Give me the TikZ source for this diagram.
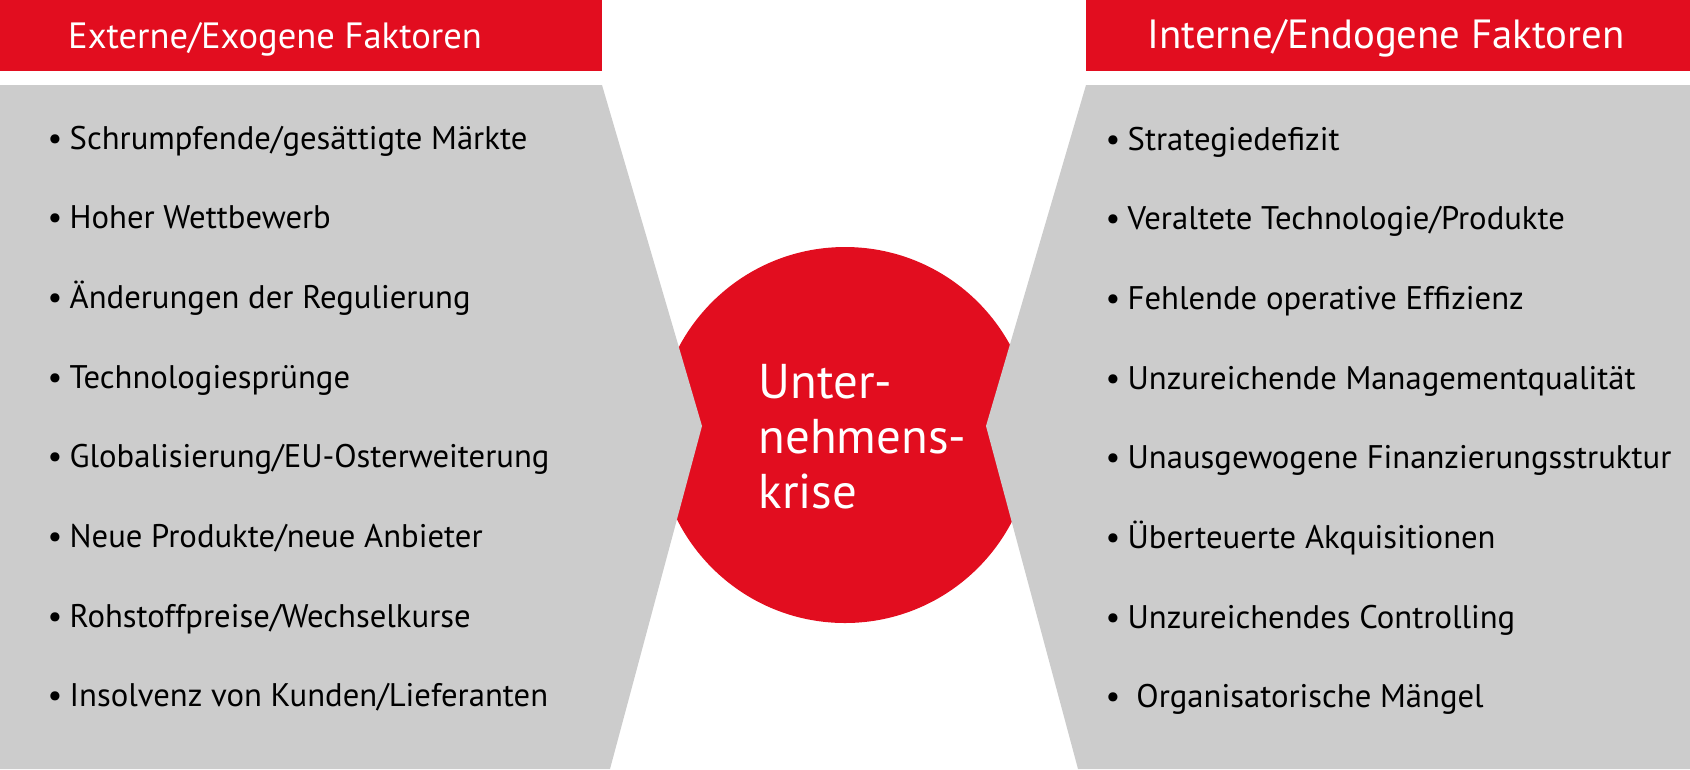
\documentclass[tikz,border=0pt]{standalone}
\usepackage{fontspec}
\setmainfont{PT Sans}
\definecolor{krisenrot}{HTML}{E20D1F}
\definecolor{hellgrau}{HTML}{CCCCCC}
\begin{document}
\begin{tikzpicture}[x=.1mm, y=-.1mm,
    kopf/.style={text=white, inner sep=0pt, anchor=base},
    punkt/.style={anchor=base west, inner sep=0pt, font=\fontsize{9.3}{11}\selectfont}]
\useasboundingbox (0,0) rectangle (1690,769);
% Kreis in der Mitte
\fill[krisenrot] (845,435) circle (18.8mm);
\node[anchor=base west, inner sep=0pt, text=white, align=left,
      font=\fontsize{13.9}{15.6}\selectfont] (krise) at (758,508) {Unter-\\nehmens-\\krise};
% graue Flaechen
\fill[hellgrau] (0,85) -- (602,85) -- (702,426) -- (610,769) -- (0,769) -- cycle;
\fill[hellgrau] (1690,85) -- (1086,85) -- (986,426) -- (1078,769) -- (1690,769) -- cycle;
% Kopfzeilen
\fill[krisenrot] (0,0) rectangle (602,71);
\fill[krisenrot] (1086,0) rectangle (1690,71);
\node[kopf, font=\fontsize{10.4}{12}\selectfont] (extern) at (275,48) {Externe/Exogene Faktoren};
\node[kopf, font=\fontsize{11.6}{13}\selectfont] (intern) at (1386,48) {Interne/Endogene Faktoren};
% linke Liste
\foreach \t [count=\i] in {Schrumpfende/gesättigte Märkte, Hoher Wettbewerb,
    Änderungen der Regulierung, Technologiesprünge, Globalisierung/EU-Osterweiterung,
    Neue Produkte/neue Anbieter, Rohstoffpreise/Wechselkurse, Insolvenz von Kunden/Lieferanten}
{
    \node[punkt] (ext\i) at (47,149+79.7*\i-79.7) {\textbullet\hspace{.22em}\t};
}
% rechte Liste
\foreach \t [count=\i] in {Strategiedefizit, Veraltete Technologie/Produkte,
    Fehlende operative Effizienz, Unzureichende Managementqualität,
    Unausgewogene Finanzierungsstruktur, Überteuerte Akquisitionen,
    Unzureichendes Controlling, \ Organisatorische Mängel}
{
    \node[punkt] (int\i) at (1105,150+79.7*\i-79.7) {\textbullet\hspace{.22em}\t};
}
\end{tikzpicture}
\end{document}
